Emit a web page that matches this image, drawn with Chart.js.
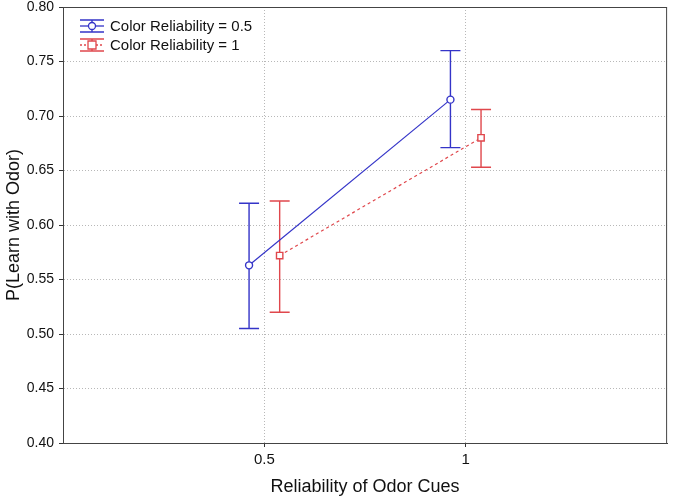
<!DOCTYPE html>
<html>
<head>
<meta charset="utf-8">
<script src="https://cdn.jsdelivr.net/npm/chart.js@4"></script>
<style>
  body { margin: 0; background: #fff; }
  #wrap { width: 673px; height: 500px; }
</style>
</head>
<body>
<div id="wrap"><canvas id="chart"></canvas></div>
<script>
const xTicks = [0.5, 1];
const odorReliability = [0.5, 1];
const seriesNames = ['Color Reliability = 0.5', 'Color Reliability = 1'];

const blueMean = [0.563, 0.715];
const blueLow = [0.505, 0.671];
const blueHigh = [0.620, 0.760];

const redMean = [0.572, 0.680];
const redLow = [0.520, 0.653];
const redHigh = [0.622, 0.706];

const BLUE = '#3434c8';
const RED = '#e0474c';
const FONT = "'Liberation Sans', Arial, sans-serif";
const dodge = 0.038;

const pts = (means, shift) => means.map((v, i) => ({ x: odorReliability[i] + shift, y: v }));

// error bars drawn through the scales
const errorBars = {
  id: 'errorBars',
  beforeDatasetsDraw(chart) {
    const { ctx, scales: { x, y } } = chart;
    const sets = [
      { lo: blueLow, hi: blueHigh, shift: -dodge, color: BLUE },
      { lo: redLow, hi: redHigh, shift: dodge, color: RED }
    ];
    ctx.save();
    ctx.lineWidth = 1.4;
    sets.forEach(s => {
      ctx.strokeStyle = s.color;
      odorReliability.forEach((r, i) => {
        const px = x.getPixelForValue(r + s.shift);
        const y1 = y.getPixelForValue(s.lo[i]);
        const y2 = y.getPixelForValue(s.hi[i]);
        ctx.beginPath();
        ctx.moveTo(px, y1); ctx.lineTo(px, y2);
        ctx.moveTo(px - 10, y1); ctx.lineTo(px + 10, y1);
        ctx.moveTo(px - 10, y2); ctx.lineTo(px + 10, y2);
        ctx.stroke();
      });
    });
    ctx.restore();
  },
  afterDraw(chart) {
    const { ctx, chartArea: a } = chart;
    ctx.save();
    ctx.strokeStyle = '#444';
    ctx.lineWidth = 1;
    ctx.strokeRect(a.left + 0.5, a.top + 0.5, a.right - a.left - 1, a.bottom - a.top);

    // legend
    const items = [
      { color: BLUE, dash: [], shape: 'circle', y: a.top + 19 },
      { color: RED, dash: [2, 2], shape: 'rect', y: a.top + 38 }
    ];
    items.forEach((it, i) => {
      const cx = a.left + 29;
      ctx.strokeStyle = it.color;
      ctx.lineWidth = 1.3;
      ctx.setLineDash([]);
      ctx.beginPath();
      ctx.moveTo(cx - 12, it.y - 6); ctx.lineTo(cx + 12, it.y - 6);
      ctx.moveTo(cx - 12, it.y + 6); ctx.lineTo(cx + 12, it.y + 6);
      ctx.moveTo(cx, it.y - 6); ctx.lineTo(cx, it.y + 6);
      ctx.stroke();
      ctx.setLineDash(it.dash);
      ctx.beginPath();
      ctx.moveTo(cx - 12, it.y); ctx.lineTo(cx + 12, it.y);
      ctx.stroke();
      ctx.setLineDash([]);
      ctx.fillStyle = '#fff';
      ctx.beginPath();
      if (it.shape === 'circle') ctx.arc(cx, it.y, 3.5, 0, Math.PI * 2);
      else ctx.rect(cx - 4, it.y - 4, 8, 8);
      ctx.fill(); ctx.stroke();
      ctx.fillStyle = '#111';
      ctx.font = '15px ' + FONT;
      ctx.textBaseline = 'middle';
      ctx.fillText(seriesNames[i], a.left + 47, it.y + 1);
    });
    ctx.restore();
  }
};

new Chart(document.getElementById('chart'), {
  type: 'line',
  data: {
    datasets: [
      {
        label: seriesNames[0],
        data: pts(blueMean, -dodge),
        borderColor: BLUE,
        backgroundColor: '#fff',
        borderWidth: 1.2,
        pointStyle: 'circle',
        pointRadius: 3.5,
        pointBorderWidth: 1.4,
        tension: 0
      },
      {
        label: seriesNames[1],
        data: pts(redMean, dodge),
        borderColor: RED,
        backgroundColor: '#fff',
        borderWidth: 1.2,
        borderDash: [3, 3],
        pointStyle: 'rect',
        pointRadius: 4.5,
        pointBorderWidth: 1.4,
        tension: 0
      }
    ]
  },
  plugins: [errorBars],
  options: {
    responsive: true,
    maintainAspectRatio: false,
    animation: false,
    layout: { padding: { top: 7, right: 4, left: 0, bottom: 0 } },
    plugins: {
      legend: { display: false },
      tooltip: { enabled: false }
    },
    scales: {
      x: {
        type: 'linear',
        min: 0,
        max: 1.5,
        afterBuildTicks: axis => { axis.ticks = xTicks.map(v => ({ value: v })); },
        afterFit: axis => {
          axis.height = 57;
          axis.paddingLeft = 0;
          axis.paddingRight = 0;
        },
        ticks: {
          color: '#111',
          font: { family: FONT, size: 15 },
          padding: 4,
          callback: v => String(v)
        },
        grid: {
          color: '#b8b8b8',
          tickColor: '#333',
          tickLength: 4,
          tickBorderDash: []
        },
        border: { color: '#444', dash: [1, 2] },
        title: {
          display: true,
          text: 'Reliability of Odor Cues',
          color: '#111',
          font: { family: FONT, size: 18 },
          padding: { top: 4, bottom: 2 }
        }
      },
      y: {
        min: 0.40,
        max: 0.80,
        afterFit: axis => {
          axis.width = 63;
          axis.paddingTop = 0;
          axis.paddingBottom = 0;
        },
        ticks: {
          stepSize: 0.05,
          color: '#111',
          font: { family: FONT, size: 14 },
          padding: 5,
          callback: v => v.toFixed(2)
        },
        grid: {
          color: '#b8b8b8',
          tickColor: '#333',
          tickLength: 4,
          tickBorderDash: []
        },
        border: { color: '#444', dash: [1, 2] },
        title: {
          display: true,
          text: 'P(Learn with Odor)',
          color: '#111',
          font: { family: FONT, size: 18 },
          padding: { top: 3, bottom: 0 }
        }
      }
    }
  }
});
</script>
</body>
</html>
